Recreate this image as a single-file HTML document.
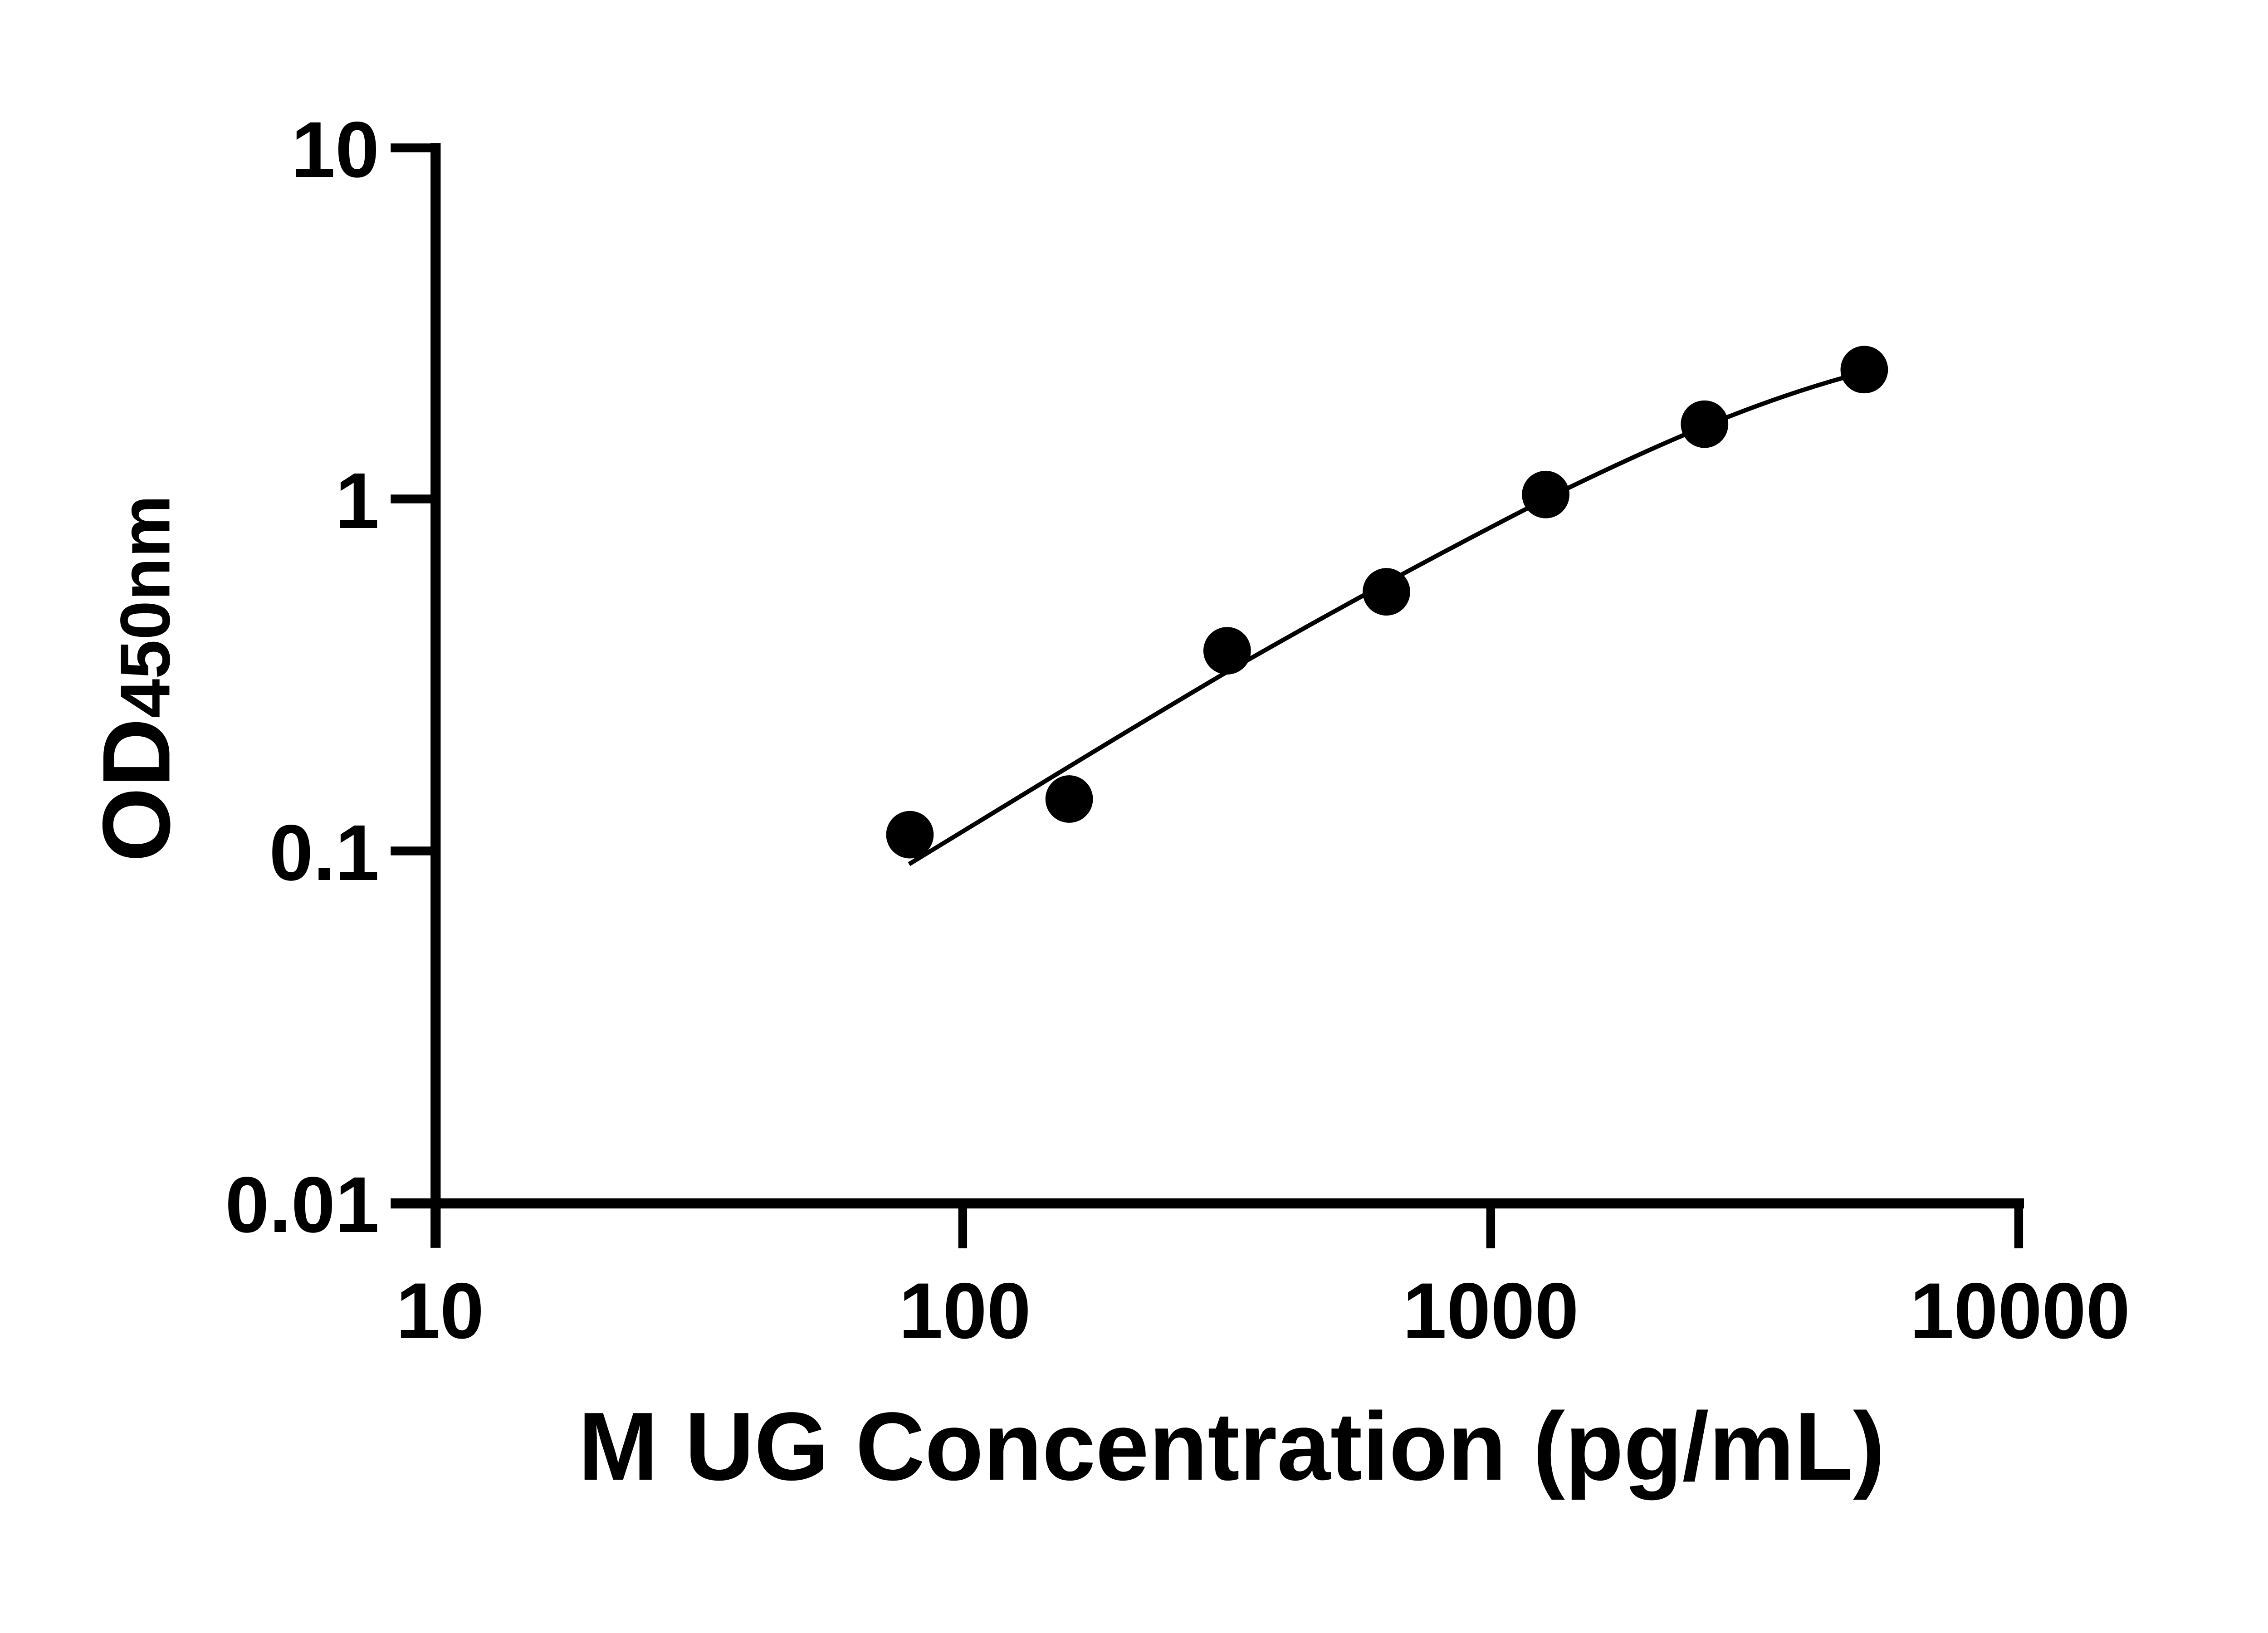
<!DOCTYPE html>
<html><head><style>html,body{margin:0;padding:0;background:#fff}svg{display:block}</style></head>
<body>
<svg width="5142" height="3600" viewBox="0 0 5142 3600" xmlns="http://www.w3.org/2000/svg">
<rect width="5142" height="3600" fill="#fff"/>
<g transform="scale(0.97)">
<g stroke="#000" fill="none" stroke-linecap="butt">
<line x1="990" y1="325" x2="990" y2="2836" stroke-width="23"/>
<line x1="888" y1="2735" x2="4600" y2="2735" stroke-width="23"/>
<g stroke-width="20">
<line x1="888" y1="336" x2="990" y2="336"/>
<line x1="888" y1="1134" x2="990" y2="1134"/>
<line x1="888" y1="1934" x2="990" y2="1934"/>
<line x1="2188" y1="2735" x2="2188" y2="2837"/>
<line x1="3388" y1="2735" x2="3388" y2="2837"/>
<line x1="4588" y1="2735" x2="4588" y2="2837"/>
</g>
<path stroke-width="10" stroke-linejoin="round" d="M2066,1964 C2306,1818 2546,1670 2787,1528 C3036,1385 3266,1260 3511,1135 C3746,1020 3986,910 4240,845"/>
</g>
<g fill="#000">
<circle cx="2068" cy="1897" r="54"/>
<circle cx="2430" cy="1816" r="54"/>
<circle cx="2789" cy="1479" r="54"/>
<circle cx="3151" cy="1345" r="54"/>
<circle cx="3513" cy="1124" r="54"/>
<circle cx="3874" cy="964" r="54"/>
<circle cx="4237" cy="840" r="54"/>
</g>
<g font-family="Liberation Sans, DejaVu Sans, sans-serif" font-weight="bold" fill="#000" font-size="180">
<text x="862" y="402" text-anchor="end">10</text>
<text x="862" y="1200" text-anchor="end">1</text>
<text x="862" y="2000" text-anchor="end">0.1</text>
<text x="862" y="2800" text-anchor="end">0.01</text>
<text x="1000" y="3041" text-anchor="middle">10</text>
<text x="2193" y="3041" text-anchor="middle">100</text>
<text x="3388" y="3041" text-anchor="middle">1000</text>
<text x="4591" y="3041" text-anchor="middle">10000</text>
<text x="1314" y="3363" font-size="220" textLength="2970" lengthAdjust="spacingAndGlyphs">M UG Concentration (pg/mL)</text>
<text transform="translate(385,1959) rotate(-90)" font-size="218">OD<tspan font-size="160">450nm</tspan></text>
</g>
</g>
</svg>
</body></html>
